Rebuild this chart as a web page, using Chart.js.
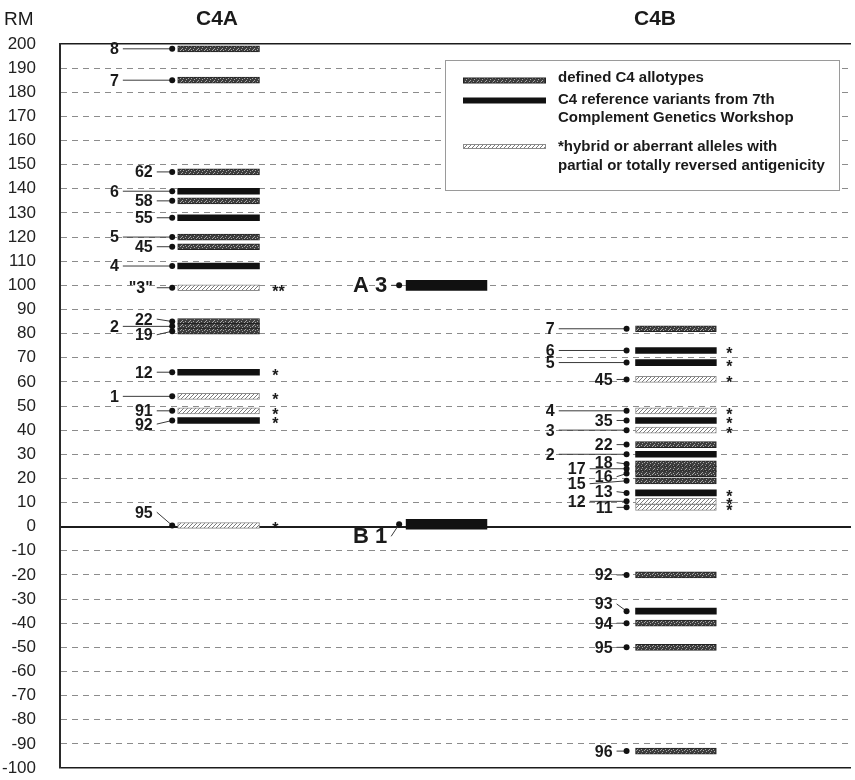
<!DOCTYPE html>
<html>
<head>
<meta charset="utf-8">
<title>C4A and C4B allotypes by relative mobility</title>
<style>
  html, body { margin: 0; padding: 0; background: #ffffff; }
  #wrap { width: 855px; height: 780px; position: relative; }
</style>
<script src="https://cdn.jsdelivr.net/npm/chart.js@4.4.1/dist/chart.umd.min.js"></script>
</head>
<body>
<div id="wrap"><canvas id="rm-chart" width="855" height="780"></canvas></div>
<script>
// ---- Data: relative mobility (RM) of C4 allotypes ----
const c4aAlleles = ['8', '7', '62', '6', '58', '55', '5', '45', '4', '"3"', '22', '2', '19', '12', '1', '91', '92', '95'];
const c4aRM      = [198, 185, 147, 139, 135, 128, 120, 116, 108, 99, 85, 83, 81, 64, 54, 48, 44, 0.5];
const c4aKind    = ['defined', 'defined', 'defined', 'reference', 'defined', 'reference', 'defined', 'defined', 'reference', 'hybrid',
                    'defined', 'defined', 'defined', 'reference', 'hybrid', 'hybrid', 'reference', 'hybrid'];
const c4aMarks   = ['', '', '', '', '', '', '', '', '', '**', '', '', '', '*', '*', '*', '*', '*'];

const c4bAlleles = ['7', '6', '5', '45', '4', '35', '3', '22', '2', '18', '17', '16', '15', '13', '12', '11', '92', '93', '94', '95', '96'];
const c4bRM      = [82, 73, 68, 61, 48, 44, 40, 34, 30, 26, 24, 22, 19, 14, 10.5, 8, -20, -35, -40, -50, -93];
const c4bKind    = ['defined', 'reference', 'reference', 'hybrid', 'hybrid', 'reference', 'hybrid', 'defined', 'reference',
                    'defined', 'defined', 'defined', 'defined', 'reference', 'hybrid', 'hybrid',
                    'defined', 'reference', 'defined', 'defined', 'defined'];
const c4bMarks   = ['', '*', '*', '*', '*', '*', '*', '', '', '', '', '', '', '*', '*', '*', '', '', '', '', ''];

const variantNames = ['A 3', 'B 1'];
const variantRM    = [100, 1];
const variantKind  = ['reference', 'reference'];

const columnTitles = ['C4A', 'C4B'];
const axisTitle = 'RM';
const rmTicks = { min: -100, max: 200, step: 10 };

const legendKinds = ['defined', 'reference', 'hybrid'];
const legendTexts = [
  ['defined C4 allotypes'],
  ['C4 reference variants from 7th', 'Complement Genetics Workshop'],
  ['*hybrid or aberrant alleles with', 'partial or totally reversed antigenicity']
];

// ---- Layout (x in horizontal track units, label shifts in RM) ----
const FONT = '"Liberation Sans", Arial, Helvetica, sans-serif';
const columns = {
  c4a:     { dot: 112.5, bar: [118, 200], thick: 6,  labelRight: { outer: 59, inner: 93 }, markX: 216 },
  variant: { dot: 340,   bar: [347, 428], thick: 10, labelRight: { v: 328 } },
  c4b:     { dot: 568,   bar: [577, 658], thick: 6,  labelRight: { far: 496, outer: 527, inner: 554 }, markX: 671 }
};
const c4aLabelCol   = ['outer', 'outer', 'inner', 'outer', 'inner', 'inner', 'outer', 'inner', 'outer', 'inner',
                       'inner', 'outer', 'inner', 'inner', 'outer', 'inner', 'inner', 'inner'];
const c4aLabelShift = [0, 0, 0, 0, 0, 0, 0, 0, 0, 0, 1, 0, -1.5, 0, 0, 0, -1.5, 5.5];
const c4bLabelCol   = ['far', 'far', 'far', 'inner', 'far', 'inner', 'far', 'inner', 'far', 'inner', 'outer', 'inner',
                       'outer', 'inner', 'outer', 'inner', 'inner', 'inner', 'inner', 'inner', 'inner'];
const c4bLabelShift = [0, 0, 0, 0, 0, 0, 0, 0, 0, 0.5, 0, -1.3, -1.2, 0.5, 0, 0, 0, 3, 0, 0, 0];
const variantLabelCol   = ['v', 'v'];
const variantLabelShift = [0, -5];

// ---- Fill styles ----
function definedPattern() {
  const c = document.createElement('canvas');
  c.width = 8; c.height = 4;
  const g = c.getContext('2d');
  g.fillStyle = '#3e3e3e';
  g.fillRect(0, 0, 8, 4);
  g.fillStyle = '#a8a8a8';
  [[1, 1], [4, 2], [6, 0], [2, 3], [7, 2], [5, 1]].forEach(([x, y]) => g.fillRect(x, y, 1, 1));
  return g.createPattern(c, 'repeat');
}
function hatchPattern() {
  const c = document.createElement('canvas');
  c.width = 4; c.height = 4;
  const g = c.getContext('2d');
  g.fillStyle = '#ffffff';
  g.fillRect(0, 0, 4, 4);
  g.fillStyle = '#7a7a7a';
  for (let i = 0; i < 4; i++) g.fillRect(i, 3 - i, 1, 1);
  return g.createPattern(c, 'repeat');
}
const kindStyle = {
  defined:   { fill: definedPattern(), edge: '#222222', edgeWidth: 1 },
  reference: { fill: '#111111',        edge: '#111111', edgeWidth: 0 },
  hybrid:    { fill: hatchPattern(),   edge: '#8c8c8c', edgeWidth: 1 }
};

const series = [
  { col: 'c4a', names: c4aAlleles, rm: c4aRM, kinds: c4aKind, marks: c4aMarks, labelCol: c4aLabelCol, shift: c4aLabelShift, font: 'bold 16px ' + FONT },
  { col: 'variant', names: variantNames, rm: variantRM, kinds: variantKind, marks: ['', ''], labelCol: variantLabelCol, shift: variantLabelShift, font: 'bold 22px ' + FONT },
  { col: 'c4b', names: c4bAlleles, rm: c4bRM, kinds: c4bKind, marks: c4bMarks, labelCol: c4bLabelCol, shift: c4bLabelShift, font: 'bold 16px ' + FONT }
];

// ---- Datasets ----
const datasets = [];
series.forEach(s => {
  const col = columns[s.col];
  // bars, one dataset per style
  ['defined', 'reference', 'hybrid'].forEach(kind => {
    const pts = [];
    s.rm.forEach((v, i) => { if (s.kinds[i] === kind) pts.push({ y: v, x: [col.bar[0], col.bar[1]] }); });
    if (!pts.length) return;
    datasets.push({
      type: 'bar', indexAxis: 'y', grouped: false, barThickness: col.thick,
      data: pts,
      backgroundColor: kindStyle[kind].fill,
      borderColor: kindStyle[kind].edge,
      borderWidth: kindStyle[kind].edgeWidth,
      borderSkipped: false,
      order: 2
    });
  });
  // leader lines from each label to its dot
  s.rm.forEach((v, i) => {
    const start = col.labelRight[s.labelCol[i]] + 4;
    datasets.push({
      type: 'scatter', showLine: true,
      data: [{ x: start, y: v + s.shift[i] }, { x: col.dot, y: v }],
      borderColor: '#3a3a3a', borderWidth: 1, pointRadius: 0,
      order: 3
    });
  });
  // dots
  datasets.push({
    type: 'scatter',
    data: s.rm.map(v => ({ x: col.dot, y: v })),
    pointRadius: 3, pointBackgroundColor: '#111111', pointBorderWidth: 0,
    order: 1
  });
});

const solidRM = [0, rmTicks.max, rmTicks.min];

// ---- Labels, asterisks, titles and key ----
const annotations = {
  id: 'annotations',
  afterDatasetsDraw(chart) {
    const { ctx, scales: { x, y } } = chart;
    ctx.save();
    ctx.fillStyle = '#1a1a1a';
    ctx.textAlign = 'right';
    ctx.textBaseline = 'middle';
    series.forEach(s => {
      const col = columns[s.col];
      ctx.font = s.font;
      s.names.forEach((n, i) => {
        ctx.fillText(n, x.getPixelForValue(col.labelRight[s.labelCol[i]]), y.getPixelForValue(s.rm[i] + s.shift[i]) + 1);
      });
      if (col.markX !== undefined) {
        ctx.font = 'bold 16px ' + FONT;
        ctx.textAlign = 'center';
        ctx.textBaseline = 'alphabetic';
        s.marks.forEach((m, i) => {
          if (m) ctx.fillText(m, x.getPixelForValue(col.markX + (m.length - 1) * 3), y.getPixelForValue(s.rm[i]) + 9);
        });
        ctx.textAlign = 'right';
        ctx.textBaseline = 'middle';
      }
    });
    ctx.restore();
  },
  afterDraw(chart) {
    const { ctx } = chart;
    ctx.save();
    // axis and column headings
    ctx.fillStyle = '#1a1a1a';
    ctx.textBaseline = 'middle';
    ctx.textAlign = 'left';
    ctx.font = '19px ' + FONT;
    ctx.fillText(axisTitle, 4, 20);
    ctx.textAlign = 'center';
    ctx.font = 'bold 21px ' + FONT;
    ctx.fillText(columnTitles[0], 217, 19);
    ctx.fillText(columnTitles[1], 655, 19);

    // key box
    ctx.fillStyle = '#ffffff';
    ctx.fillRect(445.5, 60.5, 394, 130);
    ctx.strokeStyle = '#9a9a9a';
    ctx.lineWidth = 1;
    ctx.strokeRect(445.5, 60.5, 394, 130);
    const swatchY = [80.5, 100.5, 146.5];
    const swatchH = [5, 6, 4];
    const textY = [[78], [100, 118], [147, 166]];
    legendKinds.forEach((k, i) => {
      const st = kindStyle[k];
      const top = swatchY[i] - swatchH[i] / 2;
      if (st.edgeWidth) {
        ctx.fillStyle = st.edge;
        ctx.fillRect(463, top - 0.5, 83, swatchH[i] + 1);
        ctx.fillStyle = st.fill;
        ctx.fillRect(464, top + 0.5, 81, swatchH[i] - 1);
      } else {
        ctx.fillStyle = st.fill;
        ctx.fillRect(463, top, 83, swatchH[i]);
      }
      ctx.fillStyle = '#1a1a1a';
      ctx.textAlign = 'left';
      ctx.font = 'bold 15px ' + FONT;
      legendTexts[i].forEach((t, j) => ctx.fillText(t, 558, textY[i][j]));
    });
    ctx.restore();
  }
};

new Chart(document.getElementById('rm-chart'), {
  type: 'scatter',
  data: { datasets },
  options: {
    responsive: false,
    animation: false,
    events: [],
    devicePixelRatio: 1,
    layout: { padding: { top: 44, bottom: 12, left: 0, right: 2 } },
    plugins: { legend: { display: false }, tooltip: { enabled: false } },
    scales: {
      x: { type: 'linear', min: 0, max: 793, display: false, offset: false },
      y: {
        type: 'linear', position: 'left', offset: false,
        min: rmTicks.min, max: rmTicks.max,
        afterFit: s => { s.width = 60; },
        ticks: { stepSize: rmTicks.step, autoSkip: false, maxTicksLimit: 100, padding: 0, color: '#222222', font: { family: FONT, size: 17 } },
        grid: {
          offset: false,
          drawTicks: true,
          tickLength: 24,
          tickColor: 'rgba(0,0,0,0)',
          color: c => (c.tick && solidRM.includes(c.tick.value)) ? '#1c1c1c' : '#8c8c8c',
          lineWidth: c => (c.tick && c.tick.value === 0) ? 2 : (c.tick && solidRM.includes(c.tick.value) ? 1.6 : 1)
        },
        border: {
          display: true, color: '#2a2a2a', width: 2,
          dash: c => (c.tick && solidRM.includes(c.tick.value)) ? [] : [6, 5]
        }
      }
    }
  },
  plugins: [annotations]
});
</script>
</body>
</html>
